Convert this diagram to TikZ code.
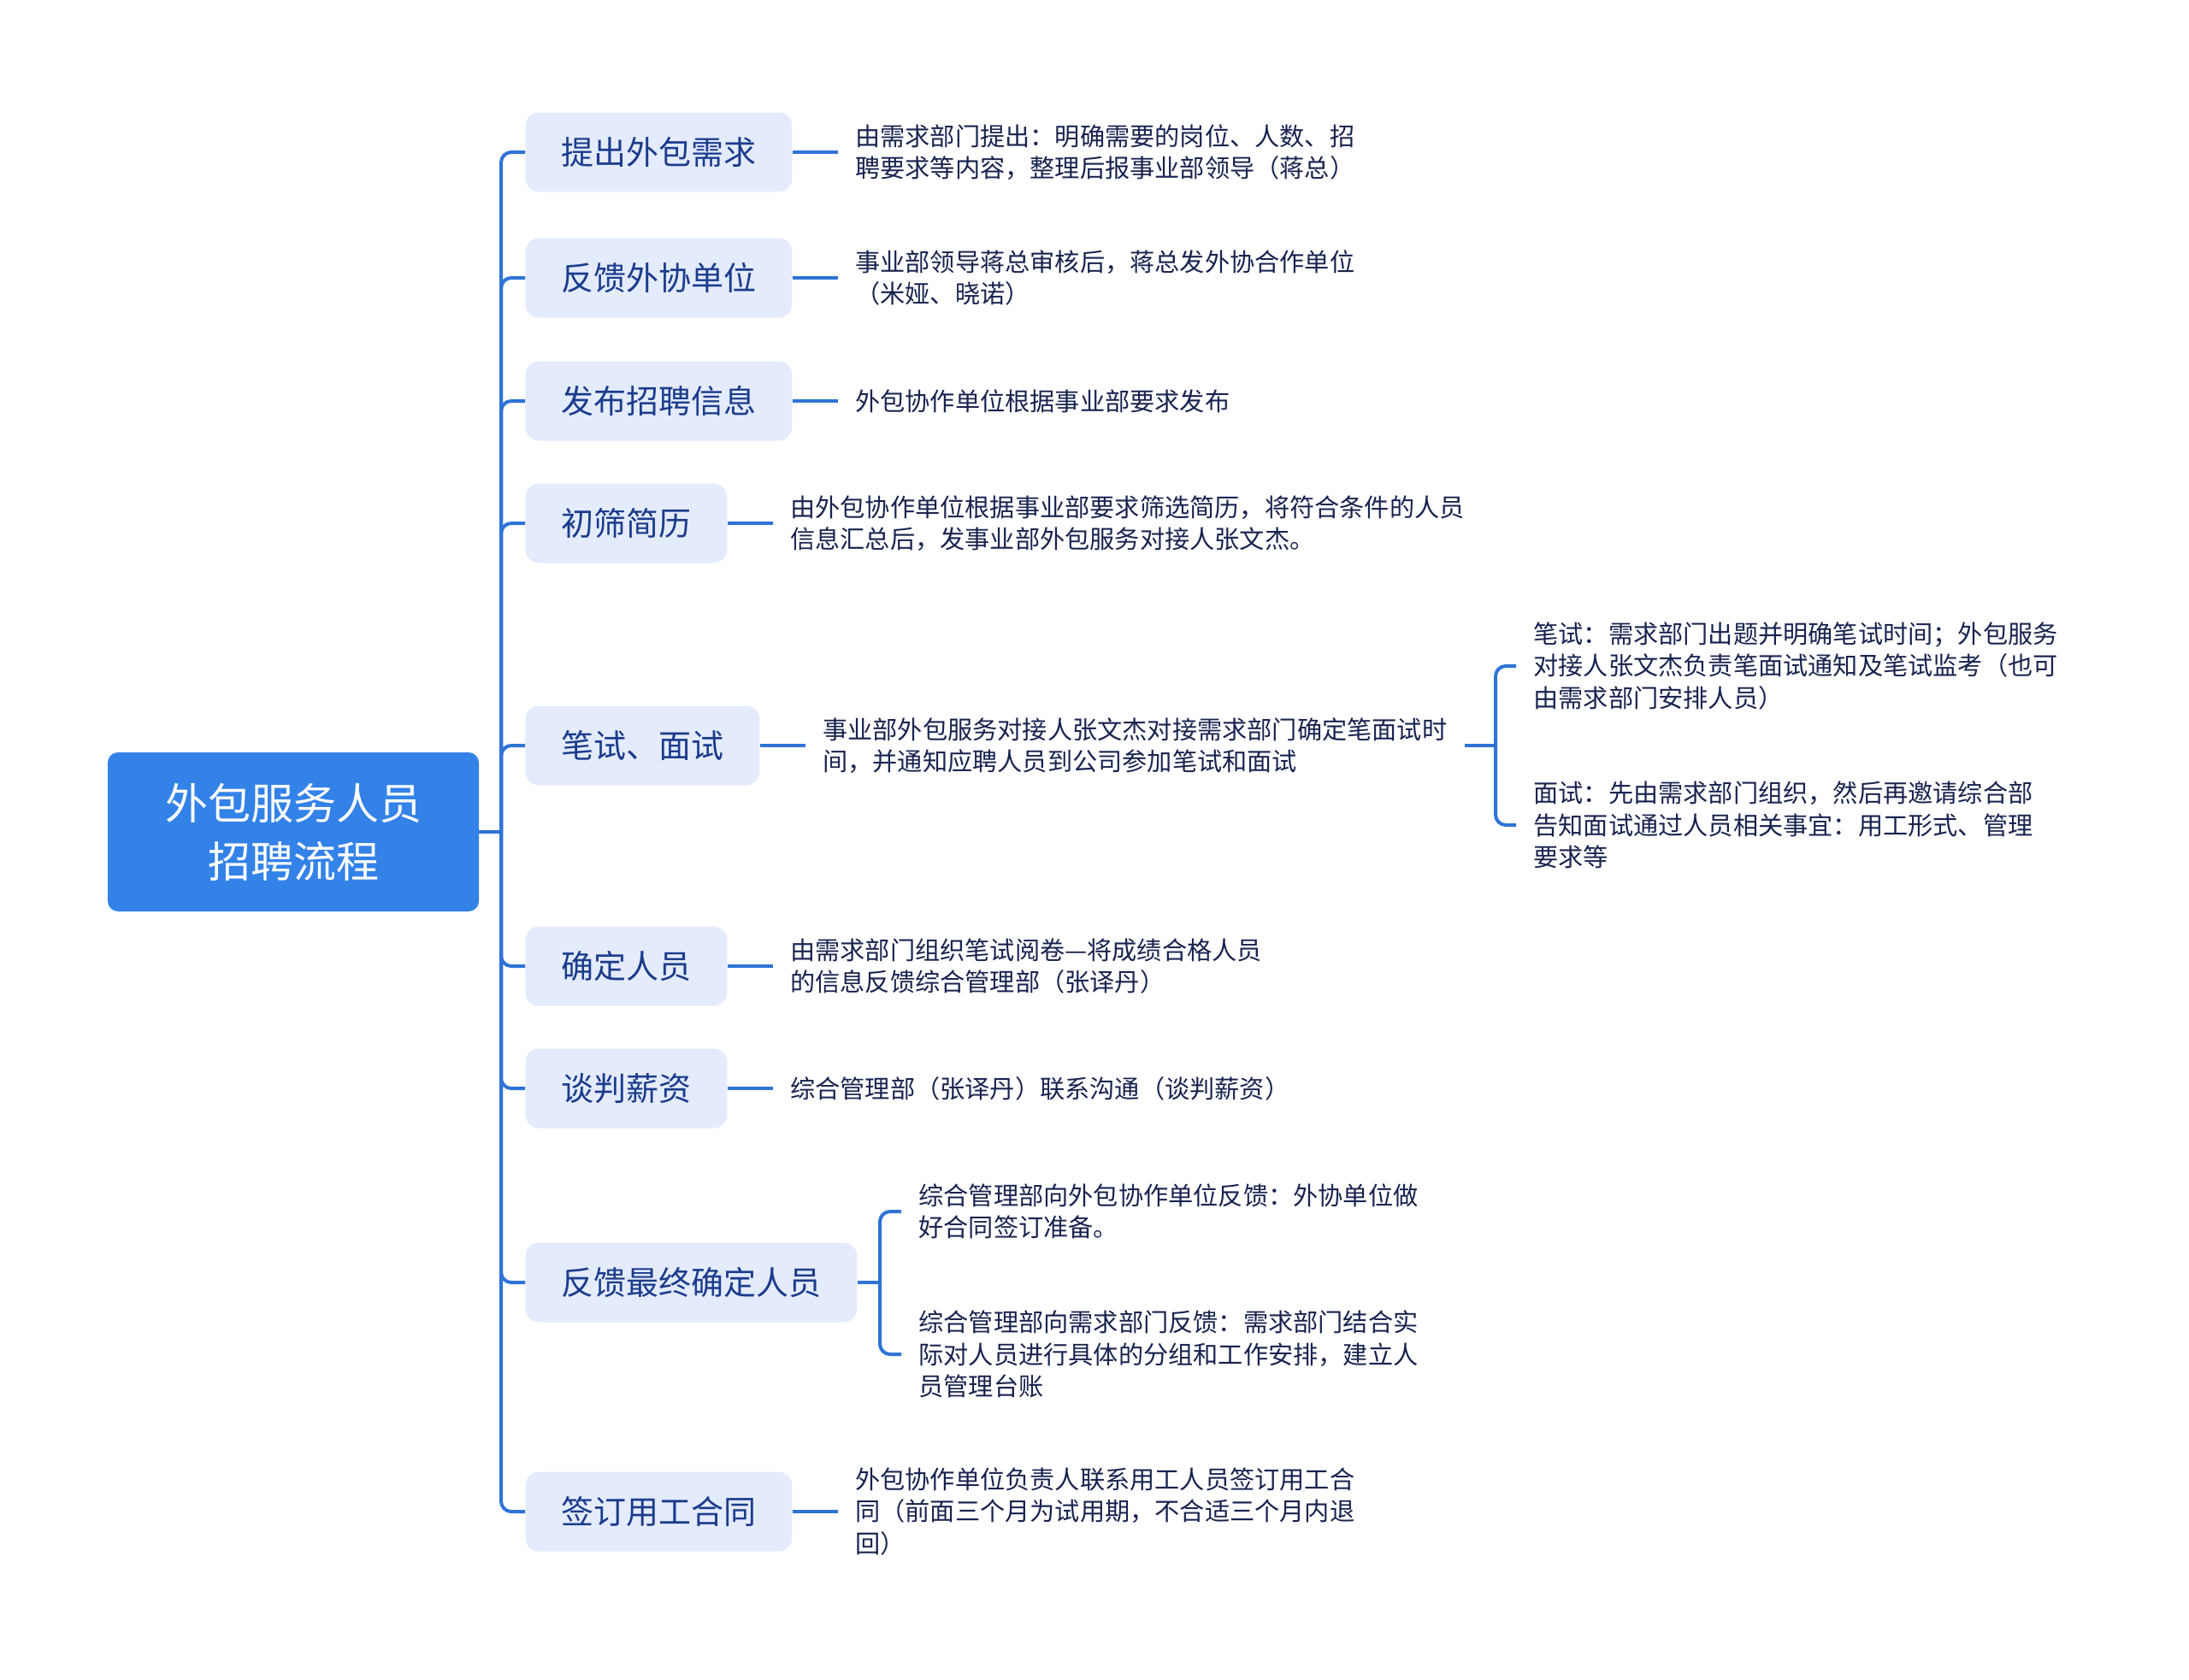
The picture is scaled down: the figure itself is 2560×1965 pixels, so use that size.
\documentclass[tikz,border=0pt]{standalone}
\usepackage{fontspec}
\setmainfont{Noto Sans CJK SC}
\usetikzlibrary{positioning}
\definecolor{lineblue}{HTML}{2F73D6}
\definecolor{rootblue}{HTML}{3382E8}
\definecolor{stepfill}{HTML}{E3EBFC}
\definecolor{steptext}{HTML}{1B3C8C}
\definecolor{leaftext}{HTML}{17234F}

\begin{document}
\begin{tikzpicture}[x=0.5pt,y=-0.5pt,
  rootbox/.style={fill=rootblue,rounded corners=6pt,text=white,align=center,
    font=\fontsize{25}{34}\selectfont,minimum width=217pt,minimum height=93pt},
  stepbox/.style={fill=stepfill,rounded corners=8pt,text=steptext,anchor=west,
    font=\fontsize{19}{23}\selectfont,inner xsep=21pt,minimum height=46.5pt},
  leaf/.style={text=leaftext,align=left,font=\fontsize{14.6}{18.8}\selectfont,
    inner xsep=10pt,inner ysep=0pt,anchor=west},
  branch/.style={draw=lineblue,line width=2pt,rounded corners=6pt}]
  \useasboundingbox (0,0) rectangle (2560,1965);

  % root
  \node[rootbox] at (343,973) (root) {外包服务人员\\招聘流程};
  \coordinate (trunk) at (586,973);

  % steps
  \node[stepbox] at (614,178) (n1) {提出外包需求};
  \node[stepbox] at (614,325) (n2) {反馈外协单位};
  \node[stepbox] at (614,469) (n3) {发布招聘信息};
  \node[stepbox] at (614,612) (n4) {初筛简历};
  \node[stepbox] at (614,872) (n5) {笔试、面试};
  \node[stepbox] at (614,1130) (n6) {确定人员};
  \node[stepbox] at (614,1273) (n7) {谈判薪资};
  \node[stepbox] at (614,1500) (n8) {反馈最终确定人员};
  \node[stepbox] at (614,1768) (n9) {签订用工合同};

  \draw[branch] (root.east) -- (trunk);
  \foreach \n in {n1,n2,n3,n4,n5,n6,n7,n8,n9}
    \draw[branch] (trunk) |- (\n.west);

  % details
  \node[leaf,right=26.5pt of n1] (l1) {由需求部门提出：明确需要的岗位、人数、招\\聘要求等内容，整理后报事业部领导（蒋总）};
  \node[leaf,right=26.5pt of n2] (l2) {事业部领导蒋总审核后，蒋总发外协合作单位\\（米娅、晓诺）};
  \node[leaf,right=26.5pt of n3] (l3) {外包协作单位根据事业部要求发布};
  \node[leaf,right=26.5pt of n4] (l4) {由外包协作单位根据事业部要求筛选简历，将符合条件的人员\\信息汇总后，发事业部外包服务对接人张文杰。};
  \node[leaf,right=26.5pt of n5] (l5) {事业部外包服务对接人张文杰对接需求部门确定笔面试时\\间，并通知应聘人员到公司参加笔试和面试};
  \node[leaf,right=26.5pt of n6] (l6) {由需求部门组织笔试阅卷—将成绩合格人员\\的信息反馈综合管理部（张译丹）};
  \node[leaf,right=26.5pt of n7] (l7) {综合管理部（张译丹）联系沟通（谈判薪资）};
  \node[leaf,right=26.5pt of n9] (l9) {外包协作单位负责人联系用工人员签订用工合\\同（前面三个月为试用期，不合适三个月内退\\回）};

  \foreach \n in {1,2,3,4,5,6,7,9}
    \draw[branch] (n\n.east) -- (l\n.west);

  % written test / interview
  \coordinate (j5) at (1749,872);
  \node[leaf] at (1773,779) (s5a) {笔试：需求部门出题并明确笔试时间；外包服务\\对接人张文杰负责笔面试通知及笔试监考（也可\\由需求部门安排人员）};
  \node[leaf] at (1773,965) (s5b) {面试：先由需求部门组织，然后再邀请综合部\\告知面试通过人员相关事宜：用工形式、管理\\要求等};
  \draw[branch] (l5.east) -- (j5);
  \draw[branch] (j5) |- (s5a.west);
  \draw[branch] (j5) |- (s5b.west);

  % final feedback
  \coordinate (j8) at (1029,1500);
  \node[leaf] at (1054,1417) (s8a) {综合管理部向外包协作单位反馈：外协单位做\\好合同签订准备。};
  \node[leaf] at (1054,1584) (s8b) {综合管理部向需求部门反馈：需求部门结合实\\际对人员进行具体的分组和工作安排，建立人\\员管理台账};
  \draw[branch] (n8.east) -- (j8);
  \draw[branch] (j8) |- (s8a.west);
  \draw[branch] (j8) |- (s8b.west);
\end{tikzpicture}
\end{document}
